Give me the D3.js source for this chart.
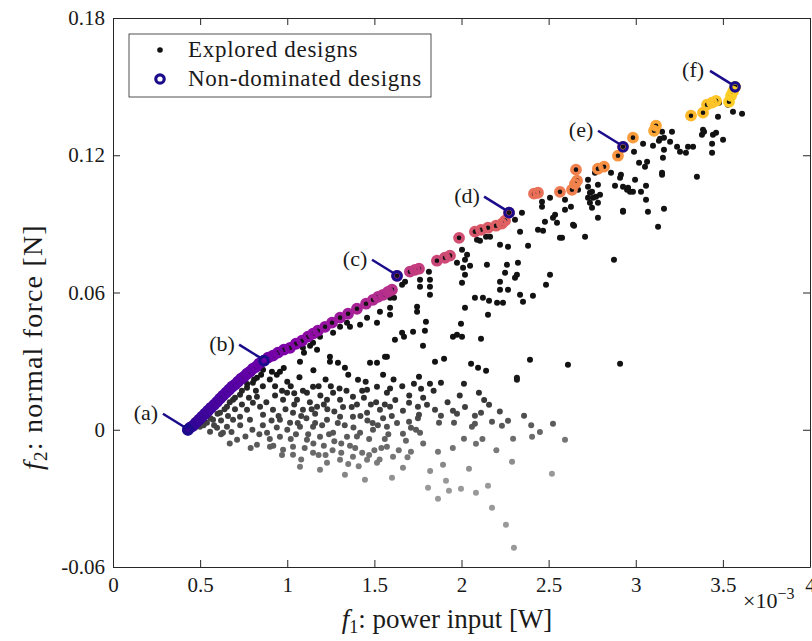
<!DOCTYPE html>
<html>
<head>
<meta charset="utf-8">
<title>Explored and non-dominated designs</title>
<style>
  body {margin: 0; background: white;}
  svg {display: block;}
  text {font-family: "Liberation Serif", "Times New Roman", serif; fill: #1a1a1a;}
</style>
</head>
<body>
<svg id="chart" width="812" height="641"></svg>
<script src="https://cdn.jsdelivr.net/npm/d3@7"></script>
<script>
// f1 in units of 1e-3 W, f2 in N
var xTicks = [0, 0.5, 1, 1.5, 2, 2.5, 3, 3.5, 4];
var xTickLabels = ["0", "0.5", "1", "1.5", "2", "2.5", "3", "3.5", "4"];
var yTicks = [-0.06, 0, 0.06, 0.12, 0.18];
var yTickLabels = ["-0.06", "0", "0.06", "0.12", "0.18"];

// non-dominated front (ordered by f1)
var frontX = [0.430,0.442,0.459,0.476,0.494,0.511,0.528,0.545,0.562,0.580,0.597,0.614,0.631,0.649,0.666,0.683,0.700,0.717,0.735,0.752,0.769,0.786,0.803,0.821,0.838,
  0.867,0.890,0.918,0.947,0.981,1.016,1.050,1.085,1.119,1.148,1.176,1.217,1.257,1.303,1.349,1.400,1.452,1.492,1.521,1.550,1.578,1.601,
  1.630,1.704,1.733,1.756,1.859,1.905,1.934,1.986,2.077,2.112,2.152,2.198,2.232,2.250,
  2.273,2.416,2.439,2.565,2.634,2.651,2.663,2.657,2.783,2.818,2.898,
  2.927,2.984,3.105,3.116,3.317,3.386,3.409,3.438,3.461,3.535,3.547,3.558,3.570];
var frontY = [0.0000,0.0009,0.0017,0.0031,0.0044,0.0057,0.0070,0.0083,0.0096,0.0109,0.0122,0.0136,0.0149,0.0162,0.0175,0.0188,0.0197,0.0210,0.0223,0.0232,0.0245,0.0254,0.0267,0.0275,0.0289,
  0.0302,0.0315,0.0324,0.0337,0.0350,0.0358,0.0376,0.0389,0.0407,0.0420,0.0433,0.0450,0.0468,0.0490,0.0507,0.0529,0.0551,0.0568,0.0581,0.0590,0.0603,0.0612,
  0.0673,0.0691,0.0699,0.0704,0.0739,0.0752,0.0761,0.0839,0.0866,0.0874,0.0883,0.0892,0.0901,0.0914,
  0.0949,0.1032,0.1036,0.1040,0.1049,0.1075,0.1089,0.1137,0.1141,0.1150,0.1198,
  0.1237,0.1277,0.1307,0.1329,0.1373,0.1386,0.1421,0.1430,0.1438,0.1434,0.1460,0.1478,0.1499];

// highlighted designs (a)-(f)
var designNames = ["(a)", "(b)", "(c)", "(d)", "(e)", "(f)"];
var designX = [0.430, 0.867, 1.630, 2.273, 2.927, 3.570];
var designY = [0.0000, 0.0302, 0.0673, 0.0949, 0.1237, 0.1499];

// explored designs that are not on the front
var explored = [
  [0.861,0.0262],[0.912,0.0254],[0.958,0.0254],[1.073,0.0297],[1.096,0.0337],[1.171,0.0350],[1.245,0.0319],[1.245,0.0297],
  [1.291,0.0293],[1.331,0.0271],[1.406,0.0219],[1.475,0.0293],[1.515,0.0293],[1.572,0.0319],[1.590,0.0503],[1.590,0.0533],
  [1.458,0.0490],[1.418,0.0459],[1.515,0.0468],[1.343,0.0468],[1.303,0.0450],[1.263,0.0424],[1.188,0.0407],[1.148,0.0380],[1.090,0.0358],
  [0.499,0.0013],[0.539,0.0031],[0.574,0.0044],[0.614,0.0074],[0.654,0.0101],[0.689,0.0131],[0.729,0.0153],[0.769,0.0184],
  [0.803,0.0205],[0.826,0.0227],[0.597,0.0009],[0.654,0.0013],[0.689,0.0044],[0.729,0.0057],[0.769,0.0087],[0.803,0.0118],
  [0.826,0.0144],[0.712,-0.0044],[0.631,-0.0013],[0.557,-0.0009],[0.786,0.0044],[0.844,0.0101],
  [0.861,0.0066],[0.918,0.0087],[0.976,0.0131],[0.999,0.0162],[1.056,0.0131],[1.113,0.0162],[1.148,0.0188],[1.033,0.0074],
  [1.090,0.0087],[1.171,0.0101],[1.228,0.0131],[1.263,0.0162],[1.303,0.0131],[1.377,0.0144],[1.458,0.0175],[1.515,0.0188],
  [1.572,0.0162],[0.958,0.0044],[1.016,0.0031],[1.073,0.0013],[1.148,0.0013],[1.228,0.0044],[1.303,0.0057],[1.377,0.0057],
  [1.458,0.0074],[1.532,0.0087],[1.590,0.0101],[0.884,-0.0013],[0.958,-0.0031],[1.033,-0.0074],[1.113,-0.0044],[1.188,-0.0031],
  [1.263,-0.0013],[1.343,-0.0031],[1.418,-0.0013],[1.492,0.0000],[1.572,0.0013],[0.976,-0.0087],[1.033,-0.0109],[1.148,-0.0101],
  [1.228,-0.0144],[1.303,-0.0131],[1.377,-0.0118],[1.458,-0.0131],[1.515,-0.0144],[1.073,-0.0162],[1.572,-0.0074],[1.607,-0.0118],
  [0.826,-0.0066],[0.901,-0.0074],[1.188,-0.0175],[1.331,-0.0197],[1.601,-0.0210],[1.446,-0.0219],
  [0.88,0.0120],[0.93,0.0150],[0.95,0.0060],[0.99,0.0090],[1.02,0.0190],[1.04,0.0110],[1.06,0.0030],[1.09,0.0170],
  [1.11,0.0050],[1.13,0.0120],[1.16,0.0070],[1.19,0.0150],[1.20,0.0020],[1.23,0.0090],[1.25,0.0190],[1.27,-0.0050],
  [1.29,0.0030],[1.32,0.0100],[1.34,0.0170],[1.36,-0.0070],[1.38,0.0010],[1.40,0.0110],[1.42,0.0060],[1.44,0.0140],
  [1.47,-0.0040],[1.49,0.0030],[1.51,0.0120],[1.54,-0.0080],[1.55,0.0050],[1.58,-0.0020],[1.60,0.0060],[1.62,0.0130],
  [1.64,-0.0090],[1.53,-0.0130],[1.43,-0.0100],[1.35,-0.0150],[1.26,-0.0090],[1.18,-0.0110],[1.10,-0.0080],[1.02,-0.0040],
  [0.94,0.0010],[0.90,-0.0040],[0.97,-0.0110],[1.08,-0.0130],[1.21,-0.0070],[1.31,-0.0060],[1.41,-0.0160],[1.50,-0.0090],
  [1.00,0.0210],[1.07,0.0230],[1.15,0.0260],[1.22,0.0220],[1.35,0.0240],[1.45,0.0210],[1.55,0.0240],[1.12,-0.0020],
  [1.24,-0.0020],[1.16,0.0030],[0.86,0.0020],[0.91,0.0040],
  [0.93,0.0190],[0.97,0.0170],[1.04,0.0160],[1.08,0.0060],[1.14,0.0090],[1.18,0.0190],[1.21,0.0110],[1.27,0.0080],
  [1.30,0.0180],[1.33,0.0020],[1.37,0.0100],[1.40,-0.0030],[1.43,0.0170],[1.46,0.0040],[1.48,0.0110],[1.52,0.0020],
  [1.56,0.0110],[1.59,0.0180],[1.05,-0.0020],[1.00,0.0000],[0.92,-0.0070],[1.15,-0.0060],[1.22,-0.0110],[1.31,-0.0100],
  [1.39,-0.0080],[1.47,-0.0110],[1.56,-0.0040],[1.63,0.0030],[1.66,0.0190],[1.61,0.0220],
  [0.52,0.0020],[0.56,0.0050],[0.60,0.0070],[0.64,0.0090],[0.67,0.0120],[0.70,0.0140],[0.74,0.0170],[0.77,0.0200],
  [0.81,0.0220],[0.85,0.0240],[0.58,0.0020],[0.62,0.0040],[0.66,0.0060],[0.70,0.0090],[0.74,0.0110],[0.78,0.0140],
  [0.82,0.0170],[0.86,0.0190],[0.90,0.0220],[0.94,0.0240],[0.98,0.0270],[0.62,-0.0020],[0.68,-0.0010],[0.73,0.0020],
  [0.76,-0.0030],[0.80,0.0000],[0.84,-0.0020],[0.67,-0.0060],[0.79,-0.0080],
  [1.727,0.0201],[1.768,0.0179],[1.819,0.0201],[1.882,0.0205],[2.014,0.0201],[2.100,0.0162],[2.158,0.0109],[2.318,0.0219],
  [1.699,0.0118],[1.750,0.0101],[1.802,0.0109],[1.664,0.0083],[1.848,0.0087],[1.882,0.0061],[1.951,0.0083],[1.974,0.0070],
  [1.756,0.0066],[1.699,0.0035],[1.871,0.0031],[1.957,0.0031],[2.077,0.0061],[2.112,0.0074],[2.077,0.0026],[2.060,0.0013],
  [2.175,0.0035],[2.232,0.0017],[2.267,0.0039],[2.359,0.0061],[2.525,0.0026],[1.710,0.0009],[1.739,0.0000],[1.762,-0.0013],
  [1.664,-0.0017],[1.681,-0.0048],[2.014,-0.0039],[2.083,-0.0061],[2.296,-0.0039],[2.405,-0.0031],[2.594,-0.0044],[1.710,-0.0096],
  [1.865,-0.0096],[1.664,-0.0166],[1.894,-0.0153],[2.043,-0.0170],[2.290,-0.0140],[2.519,-0.0192],[1.911,-0.0223],[1.808,-0.0254],
  [1.928,-0.0267],[1.997,-0.0258],[2.083,-0.0275],[2.152,-0.0245],[1.865,-0.0302],[2.175,-0.0341],[2.255,-0.0415],[2.301,-0.0516],
  [1.70,0.0150],[1.78,0.0140],[1.84,0.0170],[1.92,0.0120],[2.02,0.0100],[2.13,0.0130],[1.69,-0.0120],[1.78,-0.0060],
  [1.95,-0.0080],[2.12,-0.0040],[2.20,-0.0090],[1.82,-0.0180],[1.75,0.0050],[1.99,0.0150],[2.22,0.0080],[2.40,0.0020],[2.45,-0.0010],
  [2.347,0.0949],[2.307,0.0918],[2.336,0.0866],[2.439,0.0874],[2.479,0.0909],[2.468,0.0870],[2.537,0.0940],[2.525,0.0927],
  [2.548,0.0905],[2.640,0.0896],[2.462,0.0997],[2.462,0.0975],[2.508,0.1014],[2.594,0.1005],[2.737,0.1036],[2.755,0.1014],
  [2.795,0.1027],[2.783,0.1071],[2.726,0.1093],[2.881,0.1067],[2.927,0.0953],[2.783,0.0927],[2.565,0.0839],[2.709,0.0844],
  [2.875,0.0743],[2.382,0.0804],[2.221,0.0809],[2.267,0.0800],[2.089,0.0831],[2.106,0.0826],[2.141,0.0844],[2.164,0.0844],
  [2.003,0.0787],[2.032,0.0765],[2.020,0.0743],[2.049,0.0717],[2.009,0.0708],[2.020,0.0678],[2.003,0.0643],[2.146,0.0721],
  [2.261,0.0721],[2.324,0.0730],[2.250,0.0686],[2.318,0.0678],[2.307,0.0664],[2.508,0.0678],[2.485,0.0634],[2.221,0.0647],
  [2.221,0.0612],[2.267,0.0612],[2.336,0.0590],[2.410,0.0586],[2.077,0.0577],[2.123,0.0577],[2.158,0.0564],[2.204,0.0555],
  [2.238,0.0555],[2.353,0.0560],[2.152,0.0503],[2.020,0.0533],[1.997,0.0463],[1.951,0.0407],[1.974,0.0415],[2.003,0.0407],
  [2.112,0.0398],[1.779,0.0367],[1.848,0.0297],[1.900,0.0310],[2.055,0.0289],[2.095,0.0271],[2.141,0.0258],[2.393,0.0306],
  [2.611,0.0284],[2.910,0.0289],[2.318,0.0227],[1.756,0.0232],[1.561,0.0319],[1.659,0.0424],[1.722,0.0428],[1.790,0.0433],
  [1.796,0.0472],[1.745,0.0538],[1.745,0.0516],[1.819,0.0625],[1.819,0.0590],[1.762,0.0656],[1.762,0.0625],[1.819,0.0656],
  [1.813,0.0691],[1.659,0.0634],[1.676,0.0647],[1.590,0.0577],[1.613,0.0577],[1.974,0.0730],[2.956,0.1058],
  [1.131,0.0367],[1.360,0.0450],[1.532,0.0516],[1.618,0.0393],[1.670,0.0407],
  [2.577,0.0839],[2.646,0.0892],[2.594,0.0962],[2.628,0.0975],[2.669,0.1049],[2.726,0.1014],[2.737,0.0992],[2.783,0.0992],
  [2.772,0.1019],[2.749,0.1040],[2.858,0.1124],[2.910,0.1102],[2.915,0.1115],[2.927,0.1062],[2.950,0.1049],[2.967,0.1040],
  [2.984,0.1040],[2.996,0.1093],[3.030,0.1040],[3.059,0.1067],[3.059,0.1005],[3.070,0.0953],[2.927,0.0957],[3.019,0.1167],
  [3.053,0.1150],[3.065,0.1172],[2.990,0.1215],[3.042,0.1250],[3.099,0.1242],[3.133,0.1263],[3.139,0.1272],[3.162,0.1277],
  [3.151,0.1303],[3.208,0.1303],[3.197,0.1259],[3.162,0.1224],[3.156,0.1189],[3.151,0.1124],[3.151,0.1115],[3.162,0.0966],
  [3.128,0.0887],[3.237,0.1237],[3.254,0.1215],[3.288,0.1211],[3.300,0.1237],[3.329,0.1237],[3.351,0.1106],[3.386,0.1311],
  [3.392,0.1303],[3.380,0.1290],[3.443,0.1290],[3.461,0.1298],[3.501,0.1268],[3.438,0.1250],[3.438,0.1211],[3.472,0.1368],
  [3.558,0.1390],[3.610,0.1381],[3.552,0.1451],[3.529,0.1421],[3.478,0.1430],[3.420,0.1430],[2.766,0.1124],[2.726,0.1062],[2.749,0.0970]
];

var width = 812, height = 641,
    margin = {top: 18, left: 113, right: 2, bottom: 74},
    innerWidth = width - margin.left - margin.right,
    innerHeight = height - margin.top - margin.bottom;

var navy = "#1b0c8c";
var svg = d3.select("#chart");
var g = svg.append("g").attr("transform", "translate(" + margin.left + "," + margin.top + ")");

var xScale = d3.scaleLinear().domain([0, 4]).range([0, innerWidth]);
var yScale = d3.scaleLinear().domain([-0.06, 0.18]).range([innerHeight, 0]);

// colour along the front
var frontT = d3.scalePow().exponent(0.7).domain([0.43, 3.57]).range([0.05, 0.9]);
// grey level of explored points: lighter when deep below the front
function shade(x, y) {
  var depth = Math.max(0, 0.025 - y);
  var l = Math.min(0.6, 0.07 + 9 * depth * (0.8 + 0.25 * x));
  var v = Math.round(255 * l);
  return d3.rgb(v, v, v).toString();
}

var allPoints = explored.map(function(d) { return {x: d[0], y: d[1]}; })
  .concat(frontX.map(function(d, i) { return {x: d, y: frontY[i]}; }));
allPoints.sort(function(a, b) { return a.y - b.y; });

g.append("g").selectAll("circle")
  .data(allPoints)
  .enter().append("circle")
  .attr("cx", function(d) { return xScale(d.x); })
  .attr("cy", function(d) { return yScale(d.y); })
  .attr("r", 3)
  .attr("fill", function(d) { return shade(d.x, d.y); });

g.append("g").selectAll("circle")
  .data(frontX)
  .enter().append("circle")
  .attr("cx", function(d) { return xScale(d); })
  .attr("cy", function(d, i) { return yScale(frontY[i]); })
  .attr("r", 4.1)
  .attr("fill", "none")
  .attr("stroke-width", 3.6)
  .attr("stroke", function(d) { return d3.interpolatePlasma(frontT(d)); });

// highlighted designs with leader lines
var ann = g.append("g");
designX.forEach(function(dx, i) {
  var px = xScale(dx), py = yScale(designY[i]);
  ann.append("line")
    .attr("x1", px - 25).attr("y1", py - 16)
    .attr("x2", px - 4).attr("y2", py - 3)
    .attr("stroke", navy).attr("stroke-width", 2.5);
  ann.append("circle")
    .attr("cx", px).attr("cy", py).attr("r", 4.2)
    .attr("fill", "none").attr("stroke", navy).attr("stroke-width", 3.2);
  ann.append("text")
    .attr("x", px - 42).attr("y", py - 17)
    .attr("text-anchor", "middle").attr("dominant-baseline", "central")
    .style("font-size", "22px")
    .text(designNames[i]);
});

// axes, box and mirrored ticks
function styleAxis(sel) {
  sel.selectAll("path").attr("stroke", "#262626");
  sel.selectAll("line").attr("stroke", "#262626");
  sel.selectAll("text").style("font-size", "21px").attr("fill", "#1a1a1a")
    .style("font-family", "'Liberation Serif', serif");
}
var xAxis = g.append("g").attr("transform", "translate(0," + innerHeight + ")")
  .call(d3.axisBottom(xScale).tickValues(xTicks).tickSize(-7).tickSizeOuter(0).tickPadding(10)
    .tickFormat(function(d, i) { return xTickLabels[i]; }));
styleAxis(xAxis);
var yAxis = g.append("g")
  .call(d3.axisLeft(yScale).tickValues(yTicks).tickSize(-7).tickSizeOuter(0).tickPadding(8)
    .tickFormat(function(d, i) { return yTickLabels[i]; }));
styleAxis(yAxis);
var topAxis = g.append("g")
  .call(d3.axisTop(xScale).tickValues(xTicks).tickSize(-7).tickSizeOuter(0));
topAxis.selectAll("text").remove();
styleAxis(topAxis);
var rightAxis = g.append("g").attr("transform", "translate(" + innerWidth + ",0)")
  .call(d3.axisRight(yScale).tickValues(yTicks).tickSize(-7).tickSizeOuter(0));
rightAxis.selectAll("text").remove();
styleAxis(rightAxis);

// exponent
var expo = svg.append("text").attr("x", 743).attr("y", 608)
  .style("font-size", "22px");
expo.append("tspan").text("\u00d710");
expo.append("tspan").attr("dy", -9).style("font-size", "16px").text("\u22123");

// axis titles
var xt = svg.append("text").attr("x", 447).attr("y", 628).attr("text-anchor", "middle")
  .style("font-size", "27px");
xt.append("tspan").style("font-style", "italic").text("f");
xt.append("tspan").attr("dy", 5).style("font-size", "18px").text("1");
xt.append("tspan").attr("dy", -5).text(": power input [W]");

var yt = svg.append("text").attr("transform", "translate(42,347) rotate(-90)")
  .attr("text-anchor", "middle").style("font-size", "28px").style("letter-spacing", "1.2px");
yt.append("tspan").style("font-style", "italic").text("f");
yt.append("tspan").attr("dy", 5).style("font-size", "19px").text("2");
yt.append("tspan").attr("dy", -5).text(": normal force [N]");

// legend
var leg = svg.append("g");
leg.append("rect").attr("x", 129).attr("y", 34).attr("width", 302).attr("height", 63)
  .attr("fill", "white").attr("stroke", "#262626").attr("stroke-width", 0.8);
leg.append("circle").attr("cx", 160).attr("cy", 50).attr("r", 2.8).attr("fill", "#111");
leg.append("circle").attr("cx", 160).attr("cy", 79).attr("r", 4.2)
  .attr("fill", "none").attr("stroke", navy).attr("stroke-width", 3.2);
leg.append("text").attr("x", 188).attr("y", 57).style("font-size", "23px").style("letter-spacing", "0.7px")
  .text("Explored designs");
leg.append("text").attr("x", 188).attr("y", 86).style("font-size", "23px").style("letter-spacing", "0.7px")
  .text("Non-dominated designs");
</script>
</body>
</html>
